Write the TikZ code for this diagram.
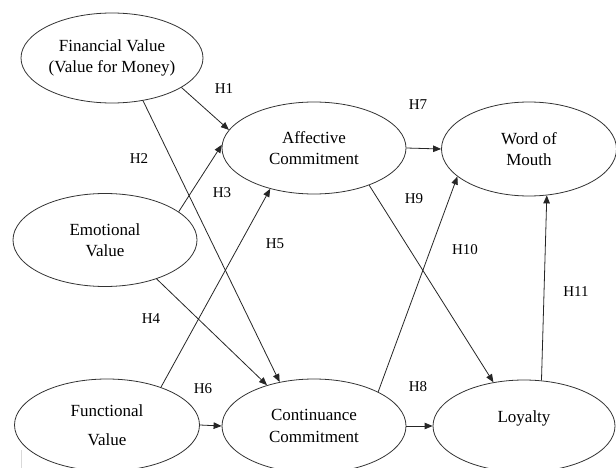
\documentclass[tikz,border=0pt]{standalone}
\usepackage{fontspec}
\setmainfont{Liberation Serif}
\usetikzlibrary{shapes.geometric,arrows.meta}

\tikzset{
  construct/.style={ellipse, draw=black!80, line width=0.8pt, inner sep=0pt,
    align=center, font=\fontsize{17}{21.5}\selectfont},
  path/.style={line width=0.8pt, draw=black!85,
    -{Triangle[length=8pt,width=6.5pt]}},
  hyp/.style={font=\fontsize{15}{17}\selectfont}
}

\begin{document}
\begin{tikzpicture}[x=1pt,y=-1pt]
  \clip (0,0) rectangle (616,468);
  \fill[white] (0,0) rectangle (616,468);

  % constructs
  \node[construct, minimum width=182pt, minimum height=90pt] (fin) at (112,58)
    {Financial Value\\(Value for Money)};
  \node[construct, minimum width=184pt, minimum height=93pt] (emo) at (105,240)
    {Emotional\\Value};
  \node[construct, minimum width=185pt, minimum height=92pt] (fun) at (107,425)
    {Functional\\[7pt]Value};
  \node[construct, minimum width=184pt, minimum height=92pt] (aff) at (314,148)
    {Affective\\Commitment};
  \node[construct, minimum width=184pt, minimum height=94pt] (con) at (314,426)
    {Continuance\\Commitment};
  \node[construct, minimum width=175pt, minimum height=94pt] (wom) at (529,149)
    {Word of\\Mouth};
  \node[construct, minimum width=182pt, minimum height=92pt] (loy) at (524,426)
    {Loyalty\\[-3pt]\mbox{}};

  % hypothesised paths
  \draw[path] (fin.-23)  -- (aff.168);
  \draw[path] (fin.-54)  -- (con.128);
  \draw[path] (emo.21)   -- (aff.178);
  \draw[path] (emo.-37)  -- (con.139);
  \draw[path] (fun.35)   -- (aff.223);
  \draw[path] (fun.east) -- (con.west);
  \draw[path] (aff.east) -- (wom.west);
  \draw[path] (con.east) -- (loy.west);
  \draw[path] (aff.-34)  -- (loy.125);
  \draw[path] (con.28)   -- (wom.201);
  \draw[path] (loy.69)   -- (wom.-69);

  % hypothesis labels
  \node[hyp] (h1)  at (224,89)  {H1};
  \node[hyp] (h2)  at (139,159) {H2};
  \node[hyp] (h3)  at (222,193) {H3};
  \node[hyp] (h4)  at (151,319) {H4};
  \node[hyp] (h5)  at (275,244) {H5};
  \node[hyp] (h6)  at (203,389) {H6};
  \node[hyp] (h7)  at (418,105) {H7};
  \node[hyp] (h8)  at (418,387) {H8};
  \node[hyp] (h9)  at (414,199) {H9};
  \node[hyp] (h10) at (465,250) {H10};
  \node[hyp] (h11) at (576,292) {H11};

  % faint margin rule at the lower left
  \coordinate (m1) at (21,450);
  \coordinate (m2) at (21,468);
  \draw[black!15, line width=0.6pt] (m1) -- (m2);
\end{tikzpicture}
\end{document}
